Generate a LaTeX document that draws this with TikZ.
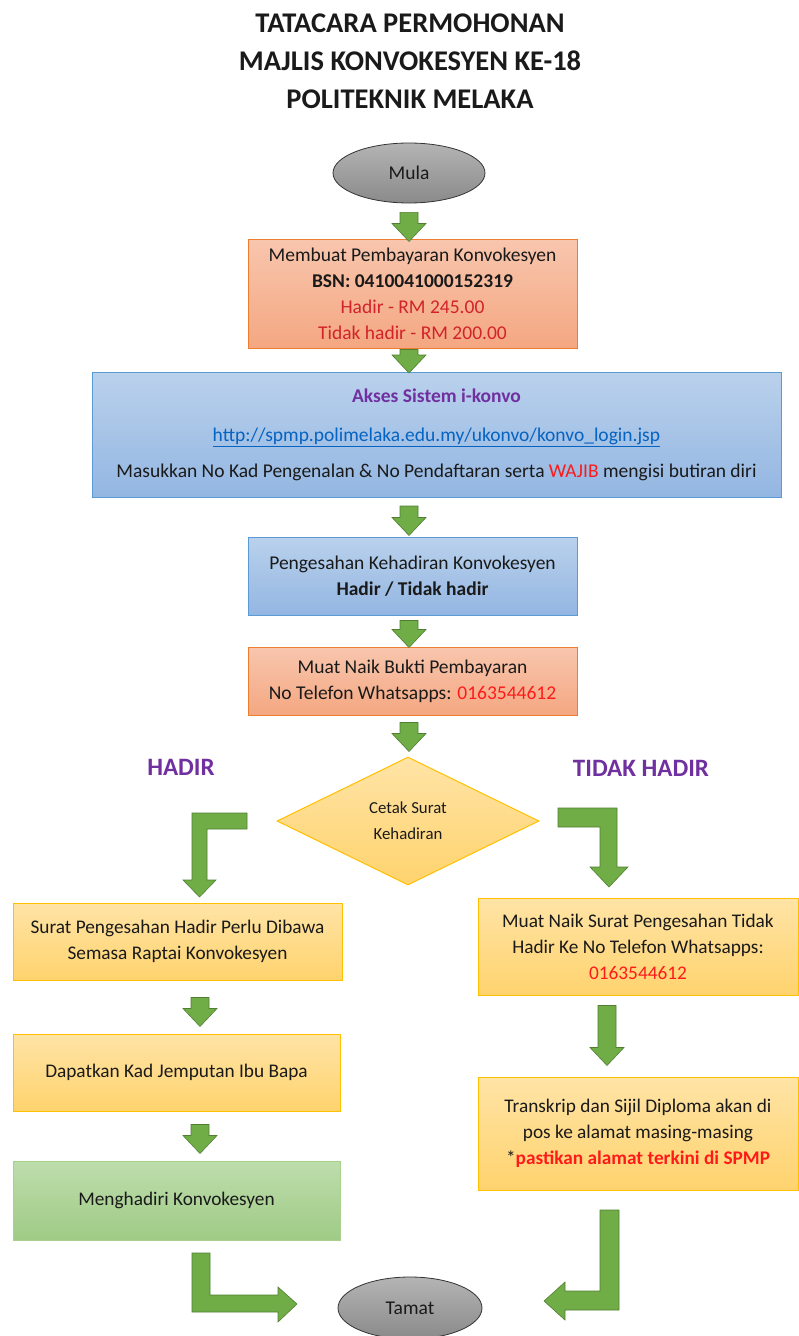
\documentclass[tikz,border=0pt]{standalone}
\usepackage{fontspec}
\setmainfont{Carlito}
\usetikzlibrary{shapes.geometric,calc}
\definecolor{orB}{HTML}{ED7D31}
\definecolor{orT}{HTML}{F8C6AE}
\definecolor{orD}{HTML}{F4A781}
\definecolor{blB}{HTML}{5B9BD5}
\definecolor{blT}{HTML}{BAD1EC}
\definecolor{blD}{HTML}{93B6E2}
\definecolor{yeB}{HTML}{FFC000}
\definecolor{yeT}{HTML}{FFE4A6}
\definecolor{yeD}{HTML}{FFD36E}
\definecolor{grB}{HTML}{A9D18E}
\definecolor{grT}{HTML}{BEDDAC}
\definecolor{grD}{HTML}{9FCB86}
\definecolor{arF}{HTML}{70AD47}
\definecolor{arB}{HTML}{507E32}
\definecolor{gyT}{HTML}{B4B4B4}
\definecolor{gyD}{HTML}{8A8A8A}
\definecolor{purp}{HTML}{7030A0}
\definecolor{redA}{HTML}{D2232A}
\definecolor{redB}{HTML}{FF1A1A}
\definecolor{linkc}{HTML}{0563C1}
\definecolor{txt}{HTML}{1A1A1A}
\tikzset{
  body/.style={font=\fontsize{19.5}{26}\selectfont, text=txt, align=center},
  small/.style={font=\fontsize{19.3}{26}\selectfont, text=txt, align=center},
  orbox/.style={body, draw=orB, line width=1pt, top color=orT, bottom color=orD, minimum width=#1, inner sep=0pt},
  blbox/.style={body, draw=blB, line width=1pt, top color=blT, bottom color=blD, minimum width=#1, inner sep=0pt},
  yebox/.style={small, draw=yeB, line width=1pt, top color=yeT, bottom color=yeD, minimum width=#1, inner sep=0pt},
  grbox/.style={small, draw=grB, line width=1pt, top color=grT, bottom color=grD, minimum width=#1, inner sep=0pt},
  terminal/.style={ellipse, draw=black!80, line width=0.8pt, top color=gyT, bottom color=gyD, inner sep=0pt, minimum width=#1, body},
  garrow/.style={fill=arF, draw=arB, line width=0.6pt, line join=miter},
  branch/.style={font=\fontsize{25}{28}\selectfont\bfseries, text=purp},
}
% straight green block arrow: x, from-anchor, gap, to-anchor, gap
\newcommand\gdn[5]{%
  \draw[garrow] let \p1=($(#2)+(0,#3)$), \p2=($(#4)+(0,#5)$) in
    (#1pt-9pt,\y1) -- (#1pt+9pt,\y1) -- (#1pt+9pt,\y2+18pt) -- (#1pt+17pt,\y2+18pt)
    -- (#1pt,\y2) -- (#1pt-17pt,\y2+18pt) -- (#1pt-9pt,\y2+18pt) -- cycle;}
\begin{document}
\begin{tikzpicture}[x=1pt,y=-1pt]
\useasboundingbox[fill=white] (0,0) rectangle (799,1336);

% title
\node[font=\fontsize{28.5}{38}\selectfont\bfseries, text=txt, align=center] (title) at (410,61)
  {TATACARA PERMOHONAN\\MAJLIS KONVOKESYEN KE-18\\POLITEKNIK MELAKA};

% main column
\node[terminal=152pt, minimum height=60pt] (mula) at (409,173) {Mula};
\node[orbox=329pt, minimum height=109pt] (b1) at (412.5,293.5)
  {\raisebox{-3pt}{}Membuat Pembayaran Konvokesyen\\\bfseries BSN: 0410041000152319\\\textcolor{redA}{Hadir - RM 245.00}\\\textcolor{redA}{Tidak hadir - RM 200.00}};
\node[blbox=689pt, minimum height=125pt] (b2) at (436.5,435)
  {\textcolor{purp}{\bfseries Akses Sistem i-konvo}\\[13pt]
   \textcolor{linkc}{\underline{http://spmp.polimelaka.edu.my/ukonvo/konvo\_login.jsp}}\\[10pt]
   Masukkan No Kad Pengenalan \& No Pendaftaran serta \textcolor{redB}{WAJIB} mengisi butiran diri};
\node[blbox=329pt, minimum height=78pt] (b3) at (412.5,576)
  {Pengesahan Kehadiran Konvokesyen\\\bfseries Hadir / Tidak hadir};
\node[orbox=329pt, minimum height=68pt] (b4) at (412.5,681)
  {Muat Naik Bukti Pembayaran\\No Telefon Whatsapps: \textcolor{redB}{0163544612}};
\node[diamond, draw=yeB, line width=1pt, top color=yeT, bottom color=yeD, minimum width=262pt, minimum height=128pt, inner sep=0pt, small, font=\fontsize{16.8}{26}\selectfont] (dec) at (408,821)
  {Cetak Surat\\Kehadiran};

\node[branch] (hadir) at (181,767) {HADIR};
\node[branch] (tidak) at (641,768) {TIDAK HADIR};

% left branch
\node[yebox=329pt, minimum height=77pt] (l1) at (177.5,941.5)
  {Surat Pengesahan Hadir Perlu Dibawa\\Semasa Raptai Konvokesyen};
\node[yebox=327pt, minimum height=77pt] (l2) at (176.5,1072.5)
  {Dapatkan Kad Jemputan Ibu Bapa};
\node[grbox=327pt, minimum height=79pt] (l3) at (176.5,1200.5)
  {Menghadiri Konvokesyen};

% right branch
\node[yebox=320pt, minimum height=97pt] (r1) at (638,946.5)
  {Muat Naik Surat Pengesahan Tidak\\Hadir Ke No Telefon Whatsapps:\\\textcolor{redB}{0163544612}};
\node[yebox=320pt, minimum height=113pt] (r2) at (638,1133.5)
  {Transkrip dan Sijil Diploma akan di\\pos ke alamat masing-masing\\*\textcolor{redB}{\bfseries pastikan alamat terkini di SPMP}};

\node[terminal=144pt, minimum height=62pt] (tamat) at (410,1308) {Tamat};

% straight block arrows
\gdn{409}{mula.south}{9}{b1.north}{3}
\gdn{409}{b1.south}{1}{b2.north}{1}
\gdn{409}{b2.south}{8}{b3.north}{-1}
\gdn{409}{b3.south}{5}{b4.north}{1}
\gdn{409}{b4.south}{7}{dec.north}{-5}
\gdn{200}{l1.south}{17}{l2.north}{-7}
\gdn{200}{l2.south}{13}{l3.north}{-7}
\gdn{607}{r1.south}{10}{r2.north}{-11}

% bent block arrows
\draw[garrow] (247,813) -- (247,829) -- (207,829) -- (207,880) -- (216,880)
  -- (199.5,897) -- (183,880) -- (192,880) -- (192,813) -- cycle;
\draw[garrow] (558,808) -- (617,808) -- (617,867) -- (628,867) -- (609,887) -- (590,867)
  -- (600,867) -- (600,827) -- (558,827) -- cycle;
\draw[garrow] (192,1253) -- (210,1253) -- (210,1295) -- (278,1295) -- (278,1287) -- (297,1304)
  -- (278,1322) -- (278,1312) -- (192,1312) -- cycle;
\draw[garrow] (600,1210) -- (619,1210) -- (619,1310) -- (565,1310) -- (565,1320) -- (544,1301)
  -- (565,1282) -- (565,1291) -- (600,1291) -- cycle;
\end{tikzpicture}
\end{document}
